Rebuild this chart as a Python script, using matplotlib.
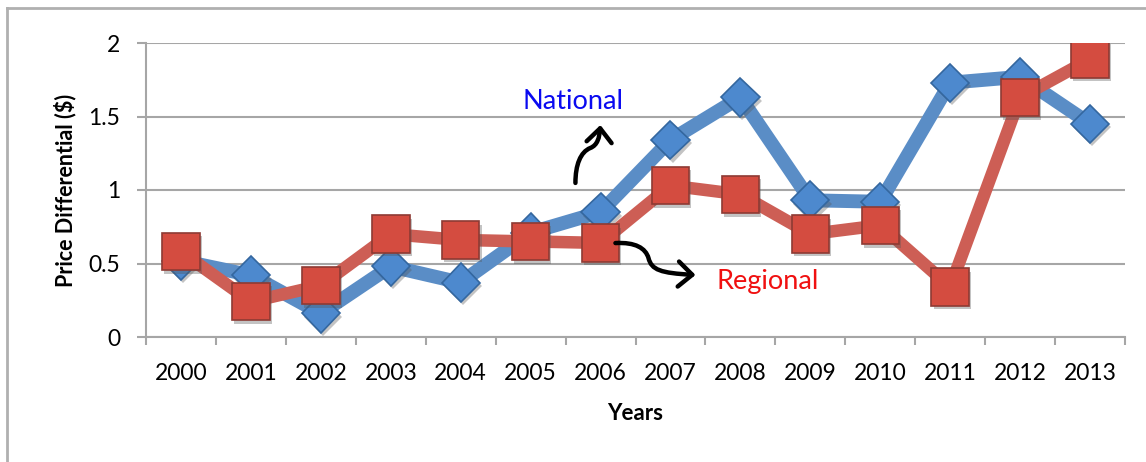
import numpy as np
import matplotlib
matplotlib.use("Agg")
import matplotlib.pyplot as plt
from matplotlib.path import Path
from matplotlib.patches import FancyArrowPatch
from matplotlib.lines import Line2D
import matplotlib.patheffects as pe

plt.rcParams['font.family'] = ['Lato', 'DejaVu Sans']

years = ['2000', '2001', '2002', '2003', '2004', '2005', '2006',
         '2007', '2008', '2009', '2010', '2011', '2012', '2013']
national = [0.52, 0.42, 0.16, 0.48, 0.37, 0.71, 0.85,
            1.34, 1.63, 0.93, 0.92, 1.73, 1.77, 1.45]
regional = [0.58, 0.24, 0.35, 0.70, 0.66, 0.65, 0.64,
            1.03, 0.97, 0.70, 0.76, 0.34, 1.63, 1.89]
yticks = [0, 0.5, 1, 1.5, 2]
ytick_labels = ['0', '0.5', '1', '1.5', '2']

W, H = 1146, 462
fig = plt.figure(figsize=(W / 100, H / 100), dpi=100)
ax = fig.add_axes([146 / W, 1 - 337 / H, (1125 - 146) / W, (337 - 43) / H])

x = np.arange(len(years))
grey = '#A6A6A6'

shadow = [pe.SimplePatchShadow(offset=(1.5, -2.5), alpha=0.35, shadow_rgbFace='#555555'), pe.Normal()]

# National
ax.plot(x, national, color='#5A8DC6', lw=10, solid_joinstyle='miter', zorder=3)
ax.plot(x, national, linestyle='none', marker='D', ms=19.5, mfc='#4D89CE',
        mec='#34679F', mew=1.2, zorder=4, path_effects=shadow)
# Regional
ax.plot(x, regional, color='#CD5E55', lw=9, solid_joinstyle='miter', zorder=5)
ax.plot(x, regional, linestyle='none', marker='s', ms=27, mfc='#D44C40',
        mec='#8E3A33', mew=1.2, zorder=6, path_effects=shadow)

ax.set_xlim(-0.5, len(years) - 0.5)
ax.set_ylim(0, 2)
ax.set_yticks(yticks)
ax.set_yticklabels(ytick_labels)
ax.set_xticks(x)
ax.set_xticklabels(years)
ax.set_xticks(np.arange(-0.5, len(years), 1), minor=True)

ax.tick_params(axis='x', which='major', length=0, pad=19, labelsize=16.5, colors='black')
ax.tick_params(axis='x', which='minor', length=6, width=1.5, color=grey, direction='out')
ax.tick_params(axis='y', length=6.5, width=1.5, color=grey, pad=12, labelsize=16.5)

for s in ['top', 'right']:
    ax.spines[s].set_visible(False)
for s in ['left', 'bottom']:
    ax.spines[s].set_color(grey)
    ax.spines[s].set_linewidth(1.5)
ax.yaxis.grid(True, color=grey, lw=1.5)
ax.set_axisbelow(True)

# Annotations
ax.text(5.6, 1.605, 'National', color='#0A0AF0', fontsize=19.5, ha='center', va='center', zorder=7)
ax.text(8.39, 0.375, 'Regional', color='#F01010', fontsize=19.5, ha='center', va='center', zorder=7)

arrow_kw = dict(arrowstyle='->,head_length=0.5,head_width=0.45', color='black', lw=3.2,
                mutation_scale=20, transform=ax.transData, zorder=7, shrinkA=0, shrinkB=0,
                capstyle='round', joinstyle='round')
p1 = Path([(5.641, 1.048), (5.641, 1.170), (5.712, 1.259), (5.855, 1.286),
           (5.956, 1.306), (5.984, 1.354), (5.998, 1.442)],
          [Path.MOVETO, Path.CURVE4, Path.CURVE4, Path.CURVE4,
           Path.CURVE4, Path.CURVE4, Path.CURVE4])
ax.add_patch(FancyArrowPatch(path=p1, **arrow_kw))
p2 = Path([(6.213, 0.639), (6.499, 0.646), (6.643, 0.605), (6.686, 0.537),
           (6.729, 0.456), (6.858, 0.435), (7.359, 0.422)],
          [Path.MOVETO, Path.CURVE4, Path.CURVE4, Path.CURVE4,
           Path.CURVE4, Path.CURVE4, Path.CURVE4])
ax.add_patch(FancyArrowPatch(path=p2, **arrow_kw))

fig.text(65 / W, 1 - 190 / H, 'Price Differential ($)', rotation=90, fontsize=15.5,
         fontweight='bold', ha='center', va='center')
fig.text(635 / W, 1 - 413 / H, 'Years', fontsize=16, fontweight='bold', ha='center', va='center')

# Outer frame
fig.add_artist(Line2D([7 / W, 7 / W], [-0.01, 1 - 8 / H], color='#B0B0B0', lw=2, transform=fig.transFigure))
fig.add_artist(Line2D([7 / W, 1.01], [1 - 8 / H, 1 - 8 / H], color='#B0B0B0', lw=2, transform=fig.transFigure))

fig.savefig('out.png', dpi=100)
